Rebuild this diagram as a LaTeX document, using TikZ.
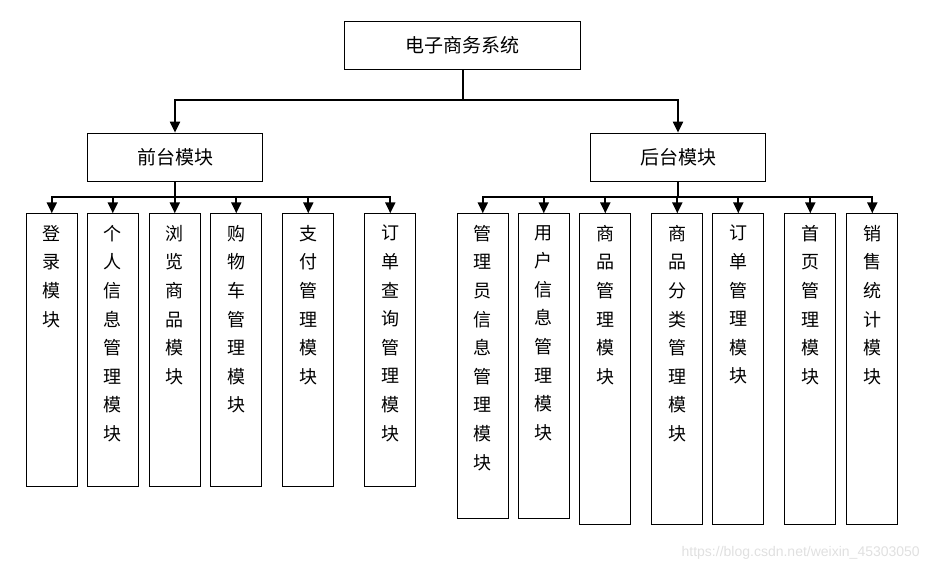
\documentclass[tikz,border=0pt]{standalone}
\usepackage{fontspec}
\newfontfamily\cjk{Noto Sans CJK SC}
\newfontfamily\wmfont{Liberation Sans}
\usepackage{tikz}
\usetikzlibrary{arrows.meta}

\tikzset{
  box/.style={draw,line width=1.1pt,inner sep=0pt},
  col/.style={box,anchor=north,minimum width=51pt},
  vtext/.style={anchor=north,align=center,inner sep=0pt,font=\cjk\fontsize{18}{28.6}\selectfont},
  link/.style={line width=2pt,-{Triangle[length=11pt,width=10pt]}}
}

\begin{document}
\begin{tikzpicture}[x=1pt,y=-1pt]
\useasboundingbox (0,0) rectangle (930,572);
% top levels
\node[box,minimum width=236pt,minimum height=48pt,font=\cjk\fontsize{19}{20}\selectfont] (sys) at (462.5,45.5) {电子商务系统};
\node[box,minimum width=175pt,minimum height=48pt,font=\cjk\fontsize{19}{20}\selectfont] (front) at (175,157.2) {前台模块};
\node[box,minimum width=175pt,minimum height=48pt,font=\cjk\fontsize{19}{20}\selectfont] (back) at (678,157.2) {后台模块};
\draw[link] (sys.south) -- ++(0,30) -| (front.north);
\draw[link] (sys.south) -- ++(0,30) -| (back.north);
% front modules
\foreach \name/\x/\h/\txt in {
  f1/51.8/272.7/{登\\录\\模\\块},
  f2/112.8/272.7/{个\\人\\信\\息\\管\\理\\模\\块},
  f3/174.8/272.7/{浏\\览\\商\\品\\模\\块},
  f4/236.3/272.7/{购\\物\\车\\管\\理\\模\\块},
  f5/308.3/272.7/{支\\付\\管\\理\\模\\块},
  f6/390.3/272.7/{订\\单\\查\\询\\管\\理\\模\\块}} {
  \node[col,minimum height=\h] (\name) at (\x,213.3) {};
  \node[vtext] (\name t) at (\x,225) {\txt};
  \draw[link] (front.south) -- ++(0,15.7) -| (\name.north);
}
% back modules
\foreach \name/\x/\h/\txt in {
  b1/482.8/305/{管\\理\\员\\信\\息\\管\\理\\模\\块},
  b2/543.8/305/{用\\户\\信\\息\\管\\理\\模\\块},
  b3/605.3/310.7/{商\\品\\管\\理\\模\\块},
  b4/677.3/310.7/{商\\品\\分\\类\\管\\理\\模\\块},
  b5/738.3/310.7/{订\\单\\管\\理\\模\\块},
  b6/810.3/310.7/{首\\页\\管\\理\\模\\块},
  b7/872.3/310.7/{销\\售\\统\\计\\模\\块}} {
  \node[col,minimum height=\h] (\name) at (\x,213.3) {};
  \node[vtext] (\name t) at (\x,225) {\txt};
  \draw[link] (back.south) -- ++(0,15.7) -| (\name.north);
}
\node[anchor=east,inner sep=0pt,text=black!12,font=\wmfont\fontsize{14}{14}\selectfont] (mark) at (920,553) {https://blog.csdn.net/weixin\_45303050};
\end{tikzpicture}
\end{document}
